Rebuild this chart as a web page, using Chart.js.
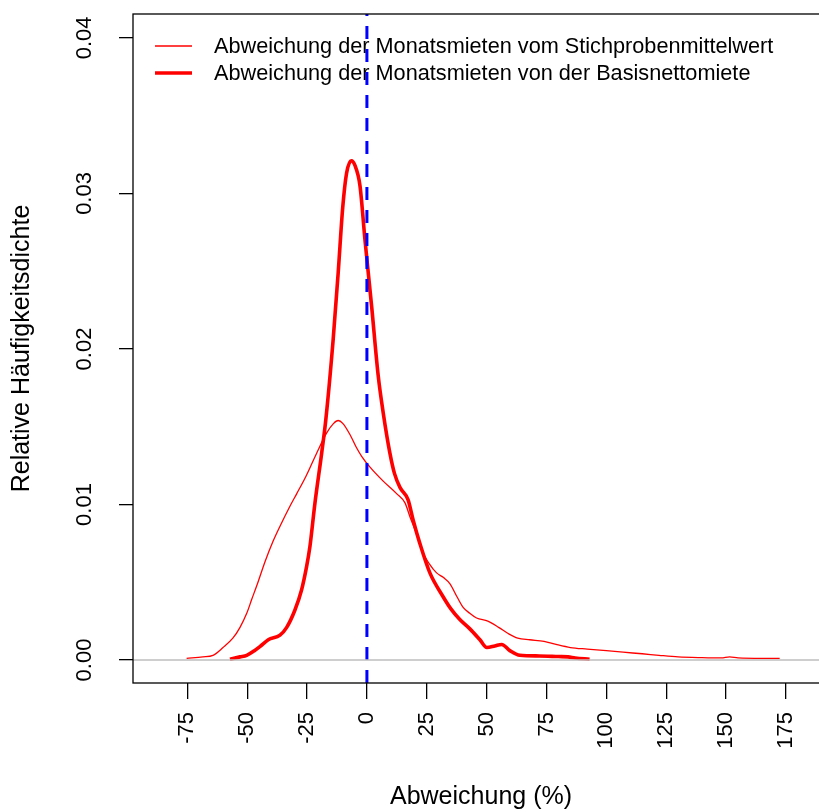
<!DOCTYPE html>
<html>
<head>
<meta charset="utf-8">
<script src="https://cdn.jsdelivr.net/npm/chart.js@4/dist/chart.umd.min.js"></script>
<style>
  html, body { margin: 0; padding: 0; background: #fff; overflow: hidden; }
  #wrap { position: relative; width: 840px; height: 810px; }
</style>
</head>
<body>
<div id="wrap"><canvas id="c"></canvas></div>
<script>
// Abweichung vom Stichprobenmittelwert (dünne Linie)
const meanX = [-75.3, -68.5, -64.3, -60.1, -56, -53, -50.2, -48.1, -45.5, -42.6, -39.3, -36.3, -32.1, -29.3, -25.5, -21, -16.8, -14, -12, -10,
  -7.1, -4.5, -2.2, 1.3, 6.8, 12.4, 15.9, 18, 20.5, 23.4, 26, 29.1, 32, 34.7, 37.5, 40.1, 43, 45.8, 50.5, 55,
  59, 63, 68, 74, 79, 85, 92, 100, 107, 115, 122, 130, 140, 148, 151.5, 155, 165, 172.4]
const meanY = [0.0001, 0.0002, 0.0003, 0.0008, 0.0014, 0.0021, 0.0030, 0.0039, 0.0050, 0.0063, 0.0076, 0.0086, 0.0099, 0.0107, 0.0118, 0.0133, 0.0146, 0.0152, 0.0154, 0.0152,
  0.0145, 0.0137, 0.0131, 0.0124, 0.0115, 0.0107, 0.0101, 0.0092, 0.0082, 0.0069, 0.0062, 0.0056, 0.0053, 0.0049, 0.0041, 0.0034, 0.0030, 0.0027, 0.0025, 0.0021,
  0.0017, 0.0014, 0.0013, 0.0012, 0.0010, 0.0008, 0.0007, 0.0006, 0.0005, 0.0004, 0.0003, 0.0002, 0.00015, 0.00013, 0.0002, 0.00013, 0.0001, 0.0001]

// Abweichung von der Basisnettomiete (dicke Linie)
const baseX = [-57.2, -53, -50.2, -47, -44.7, -41.2, -36.3, -33.5, -30.1, -27.3, -25.2, -23.8, -21.7, -18.9, -17.2, -14.1, -12, -10.1, -8.5, -6.5,
  -5, -2.9, -0.8, 2, 4.7, 6.8, 9.6, 11.5, 13.8, 17.2, 19.3, 22.1, 26.3, 31.7, 35, 38.8, 43, 47.2, 50.1, 53.4,
  56.3, 59.7, 63.9, 72, 80, 84, 87, 93]
const baseY = [0.00005, 0.0002, 0.0003, 0.0006, 0.00086, 0.0013, 0.0016, 0.0021, 0.0032, 0.0045, 0.0060, 0.0073, 0.0101, 0.0133, 0.0154, 0.0206, 0.0249, 0.0291, 0.0313, 0.0321,
  0.0318, 0.0305, 0.0270, 0.0227, 0.0183, 0.0159, 0.0133, 0.0120, 0.0111, 0.0103, 0.0090, 0.0075, 0.0056, 0.0041, 0.0033, 0.0026, 0.0020, 0.0013, 0.0008, 0.0009,
  0.0010, 0.0006, 0.0003, 0.00026, 0.00022, 0.0002, 0.00013, 0.00005]

const seriesLabels = [
  "Abweichung der Monatsmieten vom Stichprobenmittelwert",
  "Abweichung der Monatsmieten von der Basisnettomiete"
]

const xTicks = [-75, -50, -25, 0, 25, 50, 75, 100, 125, 150, 175]
const yTicks = [0, 0.01, 0.02, 0.03, 0.04]
const yTickLabels = ["0.00", "0.01", "0.02", "0.03", "0.04"]

const xTitle = "Abweichung (%)"
const yTitle = "Relative Häufigkeitsdichte"

const X_MIN = -97.7, X_MAX = 193.0
const Y_MIN = -0.00148, Y_MAX = 0.04154

const FONT = "'Liberation Sans', Arial, sans-serif"

const toPoints = (xs, ys) => xs.map((x, i) => ({ x, y: ys[i] }))

// R-style base graphics: box, rotated tick labels, titles, legend
const rBase = {
  id: "rBase",
  beforeDatasetsDraw(chart) {
    const { ctx } = chart
    ctx.save()
    ctx.font = "21.7px " + FONT
    ctx.fillStyle = "#000"
    ctx.textBaseline = "middle"
    ctx.textAlign = "left"
    const rows = [46, 73]
    chart.data.datasets.slice(0, 2).forEach((ds, i) => {
      ctx.strokeStyle = ds.borderColor
      ctx.lineWidth = ds.borderWidth
      ctx.beginPath()
      ctx.moveTo(155, rows[i])
      ctx.lineTo(192, rows[i])
      ctx.stroke()
      ctx.fillText(ds.label, 214, rows[i] + 1)
    })
    ctx.restore()
  },
  afterDraw(chart) {
    const { ctx, chartArea: a } = chart
    const xs = chart.scales.x, ys = chart.scales.y
    ctx.save()
    ctx.strokeStyle = "#000"
    ctx.lineWidth = 1.3
    ctx.strokeRect(a.left, a.top, a.right - a.left, a.bottom - a.top)

    ctx.fillStyle = "#000"
    ctx.font = "22px " + FONT
    // y tick labels, reading upwards
    yTicks.forEach((v, i) => {
      const py = ys.getPixelForValue(v)
      ctx.save()
      ctx.translate(85, py)
      ctx.rotate(-Math.PI / 2)
      ctx.textAlign = "center"
      ctx.textBaseline = "middle"
      ctx.fillText(yTickLabels[i], 0, 0)
      ctx.restore()
    })
    // x tick labels, perpendicular to axis
    xTicks.forEach(v => {
      const px = xs.getPixelForValue(v)
      ctx.save()
      ctx.translate(px, 712)
      ctx.rotate(-Math.PI / 2)
      ctx.textAlign = "right"
      ctx.textBaseline = "middle"
      ctx.fillText(String(v), 0, 0)
      ctx.restore()
    })

    ctx.font = "25px " + FONT
    ctx.textAlign = "center"
    ctx.textBaseline = "middle"
    ctx.fillText(xTitle, (a.left + a.right) / 2, 797)
    ctx.save()
    ctx.translate(22, (a.top + a.bottom) / 2)
    ctx.rotate(-Math.PI / 2)
    ctx.fillText(yTitle, 0, 0)
    ctx.restore()
    ctx.restore()
  }
}

new Chart(document.getElementById("c"), {
  type: "line",
  data: {
    datasets: [
      {
        label: seriesLabels[0],
        data: toPoints(meanX, meanY),
        borderColor: "#ff0000",
        borderWidth: 1.3,
        pointRadius: 0,
        cubicInterpolationMode: "monotone",
        order: 3
      },
      {
        label: seriesLabels[1],
        data: toPoints(baseX, baseY),
        borderColor: "#ff0000",
        borderWidth: 3.6,
        pointRadius: 0,
        cubicInterpolationMode: "monotone",
        order: 2
      },
      {
        label: "zero",
        data: [{ x: 0, y: Y_MIN }, { x: 0, y: Y_MAX }],
        borderColor: "#0000ff",
        borderWidth: 3,
        borderDash: [13, 10],
        pointRadius: 0,
        order: 1
      },
      {
        label: "baseline",
        data: [{ x: X_MIN, y: 0 }, { x: X_MAX, y: 0 }],
        borderColor: "#bebebe",
        borderWidth: 1.3,
        pointRadius: 0,
        order: 0
      }
    ]
  },
  options: {
    responsive: true,
    maintainAspectRatio: false,
    animation: false,
    layout: { padding: { left: 0, right: 11, top: 14, bottom: 0 } },
    plugins: { legend: { display: false }, tooltip: { enabled: false } },
    scales: {
      x: {
        type: "linear",
        min: X_MIN,
        max: X_MAX,
        afterBuildTicks: s => { s.ticks = xTicks.map(value => ({ value })) },
        afterFit: s => { s.height = 127 },
        ticks: { display: false },
        grid: { drawOnChartArea: false, drawTicks: true, tickLength: 16, color: "#000", lineWidth: 1.3 },
        border: { display: false }
      },
      y: {
        type: "linear",
        min: Y_MIN,
        max: Y_MAX,
        afterBuildTicks: s => { s.ticks = yTicks.map(value => ({ value })) },
        afterFit: s => { s.width = 133 },
        ticks: { display: false },
        grid: { drawOnChartArea: false, drawTicks: true, tickLength: 14, color: "#000", lineWidth: 1.3 },
        border: { display: false }
      }
    }
  },
  plugins: [rBase]
})
</script>
</body>
</html>
